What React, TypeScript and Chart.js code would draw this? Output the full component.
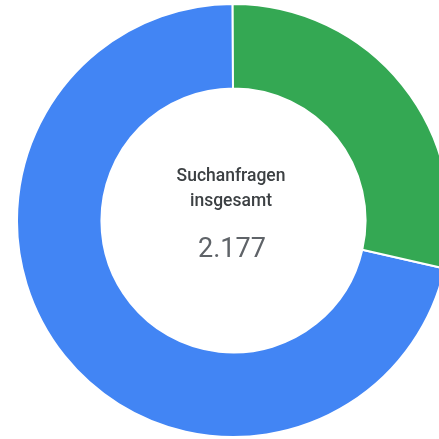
import React, { useEffect, useRef } from "react";
import { Chart, registerables } from "chart.js";

Chart.register(...registerables);

const categories = ["Blau", "Grün"];
const values = [1554, 623];
const colors = ["#4285F4", "#34A853"];
const titleLines = ["Suchanfragen", "insgesamt"];
const totalLabel = "2.177";

export default function App() {
  const ref = useRef<HTMLCanvasElement | null>(null);
  useEffect(() => {
    if (!ref.current) return;
    const chart = new Chart(ref.current, {
      type: "doughnut",
      data: {
        labels: categories,
        datasets: [
          {
            data: values,
            backgroundColor: colors,
            borderColor: "#ffffff",
            borderWidth: 2,
            hoverOffset: 0,
          },
        ],
      },
      options: {
        responsive: false,
        animation: false,
        cutout: "61%",
        rotation: 102.8,
        layout: { padding: 0 },
        plugins: { legend: { display: false }, tooltip: { enabled: false } },
      },
    });
    return () => chart.destroy();
  }, []);

  return (
    <div
      style={{
        position: "fixed",
        left: 0,
        top: 0,
        width: 439,
        height: 439,
        overflow: "hidden",
        background: "#fff",
      }}
    >
      <canvas
        ref={ref}
        width={435}
        height={435}
        style={{ position: "absolute", left: 16, top: 3, width: 435, height: 435 }}
      />
      <div
        style={{
          position: "absolute",
          left: 127,
          width: 208,
          top: 163,
          textAlign: "center",
          fontFamily: "Roboto, sans-serif",
          fontSize: 17.5,
          fontWeight: 500,
          lineHeight: "25px",
          color: "#3c4043",
        }}
      >
        {titleLines.map((l) => (
          <div key={l}>{l}</div>
        ))}
      </div>
      <div
        style={{
          position: "absolute",
          left: 128,
          width: 208,
          top: 227.5,
          textAlign: "center",
          fontFamily: "Roboto, sans-serif",
          fontSize: 27,
          lineHeight: "40px",
          color: "#5f6368",
        }}
      >
        {totalLabel}
      </div>
    </div>
  );
}
